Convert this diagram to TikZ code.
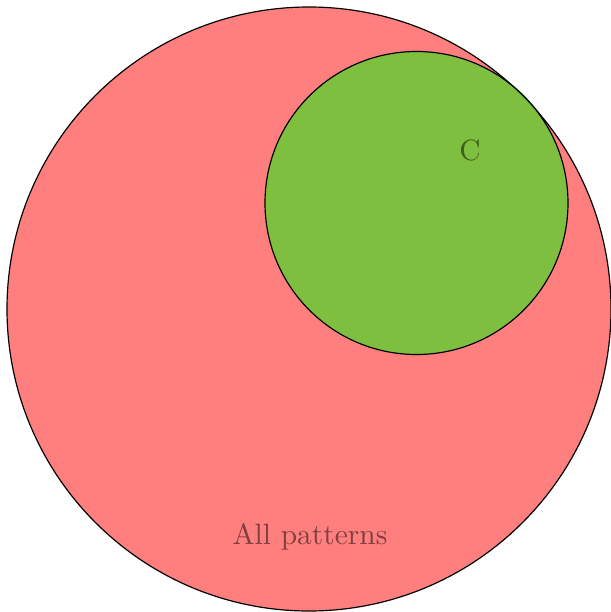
\documentclass[tikz,border=0pt]{standalone}
\begin{document}
\begin{tikzpicture}[x=0.34pt,y=-0.34pt,
  setcirc/.style={draw=black,fill opacity=0.5,text opacity=0.5,line width=0.4pt}]
\useasboundingbox (0,0) rectangle (611,612);
\fill[white] (0,0) rectangle (611,612);
\draw[setcirc,fill=red] (309,309) circle[radius=302];
\draw[setcirc,fill=green] (416.5,203) circle[radius=151.5];
\node[text opacity=0.5] (all) at (310,537) {All patterns};
\node[text opacity=0.5] (c) at (470,150) {C};
\end{tikzpicture}
\end{document}
